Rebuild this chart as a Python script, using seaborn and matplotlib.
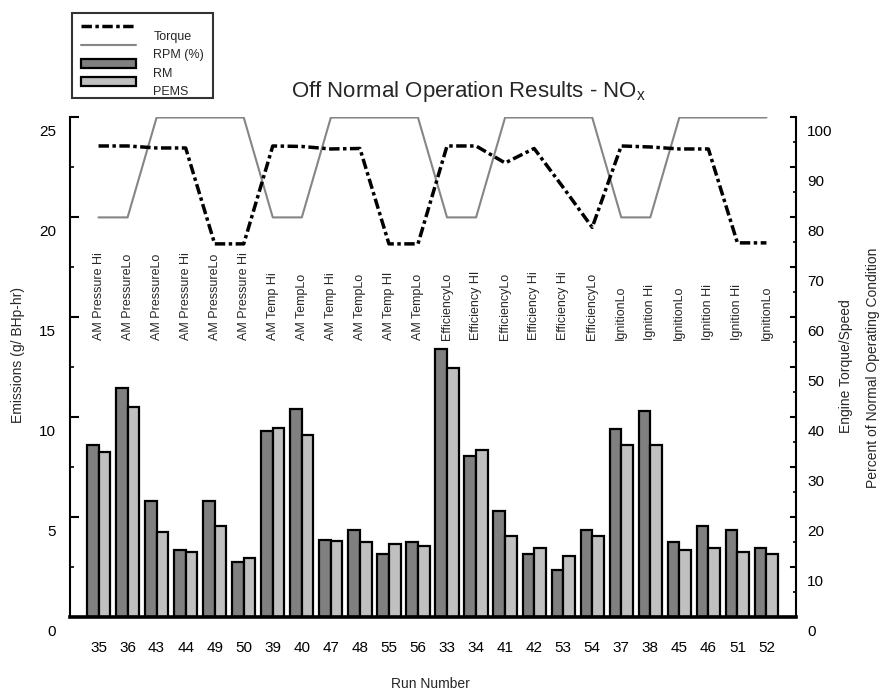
import numpy as np
import pandas as pd
import matplotlib
matplotlib.use("Agg")
import matplotlib.pyplot as plt
import matplotlib.transforms as mtransforms
from matplotlib.lines import Line2D
from matplotlib.patches import Patch
from matplotlib.ticker import MultipleLocator
import seaborn as sns

# =========================================================
# DADOS
# =========================================================

runs = ["35", "36", "43", "44", "49", "50", "39", "40", "47", "48", "55", "56",
        "33", "34", "41", "42", "53", "54", "37", "38", "45", "46", "51", "52"]

conditions = ["AM Pressure Hi", "AM PressureLo", "AM PressureLo", "AM Pressure Hi",
              "AM PressureLo", "AM Pressure Hi", "AM Temp Hi", "AM TempLo",
              "AM Temp Hi", "AM TempLo", "AM Temp HI", "AM TempLo",
              "EfficiencyLo", "Efficiency HI", "EfficiencyLo", "Efficiency Hi",
              "Efficiency Hi", "EfficiencyLo", "IgnitionLo", "Ignition Hi",
              "IgnitionLo", "Ignition Hi", "Ignition Hi", "IgnitionLo"]

rm_nox = [8.63, 11.47, 5.83, 3.33, 5.83, 2.75, 9.33, 10.43, 3.87, 4.33, 3.13, 3.75,
          13.42, 8.08, 5.33, 3.13, 2.33, 4.33, 9.43, 10.33, 3.77, 4.53, 4.37, 3.43]
pems_nox = [8.27, 10.53, 4.25, 3.25, 4.53, 2.95, 9.45, 9.13, 3.78, 3.75, 3.63, 3.53,
            12.45, 8.37, 4.03, 3.43, 3.03, 4.03, 8.63, 8.63, 3.33, 3.43, 3.27, 3.13]

torque_pct = [94.3, 94.3, 93.9, 93.9, 74.7, 74.7, 94.3, 94.2, 93.7, 93.8, 74.7, 74.7,
              94.3, 94.3, 90.9, 93.8, 86.0, 78.0, 94.3, 94.1, 93.7, 93.7, 74.9, 74.9]
rpm_pct = [80, 80, 100, 100, 100, 100, 80, 80, 100, 100, 100, 100,
           80, 80, 100, 100, 100, 100, 80, 80, 100, 100, 100, 100]

# =========================================================
# ESTILO
# =========================================================

sns.set_theme(style="white")
plt.rcParams["font.family"] = ["Liberation Sans", "DejaVu Sans"]
plt.rcParams["mathtext.fontset"] = "custom"
plt.rcParams["mathtext.rm"] = "Liberation Sans"

fig = plt.figure(figsize=(8.83, 6.92), dpi=100)
ax = fig.add_axes([69.5 / 883, 1 - 617 / 692, 726 / 883, 499.5 / 692])

df = pd.DataFrame({
    "run": runs * 2,
    "nox": rm_nox + pems_nox,
    "source": ["RM"] * len(runs) + ["PEMS"] * len(runs),
})
colors = {"RM": "#808080", "PEMS": "#c0c0c0"}
rpm_color = "#858585"
torque_dash = (0, (3, 1, 1, 1))

sns.barplot(data=df, x="run", y="nox", hue="source", order=runs,
            hue_order=["RM", "PEMS"], palette=colors, saturation=1,
            edgecolor="black", linewidth=1.6, width=0.8, errorbar=None,
            legend=False, ax=ax)

ax.set_xlim(-1, 24)
ax.set_ylim(0, 25)
ax.yaxis.set_major_locator(MultipleLocator(5))
ax.yaxis.set_minor_locator(MultipleLocator(2.5))
ax.set_xlabel("")
ax.set_ylabel("")
for s in ["top", "right"]:
    ax.spines[s].set_visible(False)
ax.spines["left"].set_linewidth(1.5)
ax.spines["bottom"].set_linewidth(2.6)
for s in ["left", "bottom"]:
    ax.spines[s].set_color("black")
ax.tick_params(axis="y", which="major", direction="in", length=6.5, width=1.5,
               labelsize=11, pad=9.5, colors="black")
ax.tick_params(axis="y", which="minor", direction="in", length=3, width=1.2,
               colors="black")
ax.tick_params(axis="x", length=0, labelsize=11, pad=17, colors="black")

# eixo secundário: torque e rotação
ax2 = ax.twinx()
x_pos = np.arange(len(runs))
sns.lineplot(x=x_pos, y=rpm_pct, ax=ax2, color=rpm_color, linewidth=1.5)
sns.lineplot(x=x_pos, y=torque_pct, ax=ax2, color="black", linewidth=2.5)
ax2.lines[-1].set_linestyle(torque_dash)
ax2.set_ylim(0, 100)
ax2.set_xlim(-1, 24)
ax2.yaxis.set_major_locator(MultipleLocator(10))
ax2.yaxis.set_minor_locator(MultipleLocator(5))
for s in ["top", "left", "bottom"]:
    ax2.spines[s].set_visible(False)
ax2.spines["right"].set_linewidth(1.5)
ax2.spines["right"].set_color("black")
ax2.tick_params(axis="y", which="major", direction="in", length=4.5, width=1.5,
                labelsize=11, pad=8.5, colors="black")
ax2.tick_params(axis="y", which="minor", direction="in", length=2.5, width=1.2,
                colors="black")
ax2.set_ylabel("")

# rótulos das condições (verticais)
for i, cond in enumerate(conditions):
    ax2.text(i, 55.5, cond, rotation=90, ha="center", va="bottom", fontsize=9)

# os números dos eixos y ficam um pouco abaixo das marcas, como no original
offset = mtransforms.ScaledTranslation(0, -13 / 100, fig.dpi_scale_trans)
for lab in ax.get_yticklabels() + ax2.get_yticklabels():
    lab.set_transform(lab.get_transform() + offset)

# títulos e rótulos
fig.text(468 / 883, 1 - 92 / 692, r"Off Normal Operation Results - NO$_{\mathregular{x}}$",
         ha="center", va="center", fontsize=16)
fig.text(18 / 883, 1 - 355 / 692, "Emissions (g/ BHp-hr)", rotation=90,
         ha="center", va="center", fontsize=10)
fig.text(846 / 883, 1 - 366 / 692, "Engine Torque/Speed", rotation=90,
         ha="center", va="center", fontsize=10)
fig.text(873 / 883, 1 - 368 / 692, "Percent of Normal Operating Condition", rotation=90,
         ha="center", va="center", fontsize=10)
fig.text(430 / 883, 1 - 684 / 692, "Run Number", ha="center", va="center", fontsize=10)

# legenda
handles = [
    Line2D([], [], color="black", linewidth=2.5, linestyle=torque_dash),
    Line2D([], [], color=rpm_color, linewidth=1.5),
    Patch(facecolor=colors["RM"], edgecolor="black", linewidth=1.6),
    Patch(facecolor=colors["PEMS"], edgecolor="black", linewidth=1.6),
]
leg = fig.legend(handles, ["Torque", "RPM (%)", "RM", "PEMS"],
                 loc="upper left", bbox_to_anchor=(72 / 883, 1 - 13 / 692),
                 fontsize=9, frameon=True, fancybox=False, handlelength=4.4,
                 handleheight=0.8, handletextpad=1.4, labelspacing=0.5,
                 borderpad=0.7, borderaxespad=0)
leg.get_frame().set_edgecolor("black")
leg.get_frame().set_linewidth(1.5)
# no original o texto da legenda fica abaixo do símbolo
leg_shift = mtransforms.ScaledTranslation(0, -9 / 100, fig.dpi_scale_trans)
for t in leg.get_texts():
    t.set_transform(t.get_transform() + leg_shift)

fig.savefig("out.png", dpi=100)
